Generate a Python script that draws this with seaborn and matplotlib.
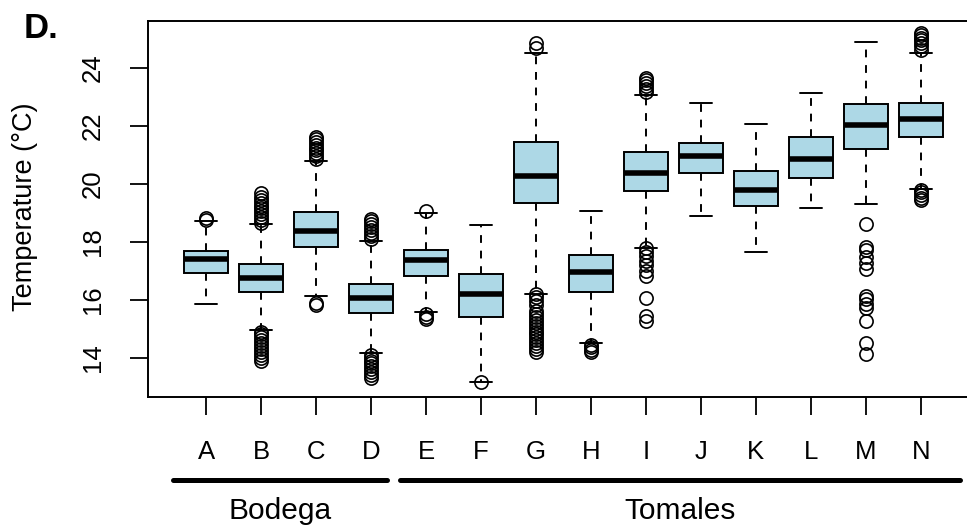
import matplotlib
matplotlib.use("Agg")
import matplotlib.pyplot as plt
import matplotlib.transforms as mtransforms
import seaborn as sns
import numpy as np

# ---- data ----
sites = ["A", "B", "C", "D", "E", "F", "G", "H", "I", "J", "K", "L", "M", "N"]
q1 = [16.91, 16.28, 17.82, 15.55, 16.83, 15.40, 19.33, 16.28, 19.75, 20.36, 19.25, 20.21, 21.21, 21.61]
med = [17.41, 16.76, 18.38, 16.05, 17.37, 16.20, 20.28, 16.95, 20.36, 20.97, 19.77, 20.85, 22.04, 22.25]
q3 = [17.68, 17.23, 19.03, 16.54, 17.72, 16.89, 21.43, 17.53, 21.09, 21.40, 20.44, 21.62, 22.76, 22.80]
whislo = [15.86, 14.97, 16.12, 14.16, 15.57, 13.17, 16.20, 14.50, 17.79, 18.90, 17.66, 19.16, 19.30, 19.81]
whishi = [18.73, 18.62, 20.79, 18.02, 19.00, 18.57, 24.53, 19.07, 23.06, 22.80, 22.07, 23.15, 24.90, 24.53]
outliers = [
    [18.76, 18.82],
    [18.65, 18.75, 18.85, 18.95, 19.05, 19.15, 19.25, 19.35, 19.45, 19.55, 19.67,
     14.90, 14.80, 14.70, 14.60, 14.50, 14.40, 14.30, 14.20, 14.10, 14.00, 13.90],
    [20.85, 20.95, 21.05, 21.15, 21.25, 21.35, 21.45, 21.55, 21.62, 15.80, 15.90],
    [18.10, 18.20, 18.30, 18.40, 18.50, 18.60, 18.70, 18.80,
     14.10, 14.00, 13.90, 13.80, 13.70, 13.60, 13.50, 13.40, 13.30],
    [19.06, 15.50, 15.40, 15.32],
    [13.15],
    [24.68, 24.87, 16.20, 16.10, 15.95, 15.80, 15.60, 15.50, 15.40, 15.30, 15.20,
     15.10, 15.00, 14.90, 14.80, 14.70, 14.60, 14.50, 14.40, 14.30, 14.20],
    [14.45, 14.35, 14.25, 14.20],
    [23.18, 23.28, 23.38, 23.48, 23.58, 23.65,
     17.80, 17.65, 17.50, 17.35, 17.20, 17.00, 16.80, 16.05, 15.45, 15.25],
    [],
    [],
    [],
    [18.61, 17.83, 17.72, 17.49, 17.26, 17.05, 16.13, 16.02, 15.85, 15.70, 15.27, 14.50, 14.12],
    [24.62, 24.75, 24.85, 24.95, 25.05, 25.15, 25.20, 19.79, 19.70, 19.60, 19.50, 19.44],
]
yticks = [14, 16, 18, 20, 22, 24]
groups = ["Bodega", "Tomales"]
group_span = [(0.40, 4.29), (4.53, 14.71)]
ylabel = "Temperature (\u00b0C)"
panel = "D."

# ---- style ----
sns.set_style("white")
plt.rcParams["font.family"] = ["Liberation Sans", "DejaVu Sans"]

W, H = 967, 525
fig = plt.figure(figsize=(W / 100, H / 100), dpi=100)
left, right, top, bottom = 148, 979, 21, 397
ax = fig.add_axes([left / W, 1 - bottom / H, (right - left) / W, (bottom - top) / H])

stats = []
for i, s in enumerate(sites):
    stats.append(dict(label=s, q1=q1[i], med=med[i], q3=q3[i],
                      whislo=whislo[i], whishi=whishi[i], fliers=outliers[i]))

lw = 1.4
positions = np.arange(1, len(sites) + 1)
ax.bxp(stats, positions=positions, widths=0.8, capwidths=0.4, patch_artist=True,
       boxprops=dict(facecolor="#ADD8E6", edgecolor="black", linewidth=lw),
       medianprops=dict(color="black", linewidth=4.0, solid_capstyle="butt"),
       whiskerprops=dict(color="black", linewidth=lw, linestyle=(0, (4, 4))),
       capprops=dict(color="black", linewidth=lw),
       flierprops=dict(marker="o", markerfacecolor="none", markeredgecolor="black",
                       markersize=9.5, markeredgewidth=1.2, linestyle="none"),
       manage_ticks=False)

ax.set_xlim(-0.06, 15.06)
ax.set_ylim(12.64, 25.62)
ax.set_xticks(positions)
ax.set_xticklabels(sites)
ax.set_yticks(yticks)
ax.set_yticklabels([str(t) for t in yticks], rotation=90, va="center")
for sp in ax.spines.values():
    sp.set_visible(True)
    sp.set_color("black")
    sp.set_linewidth(1.4)
ax.tick_params(axis="both", which="major", direction="out", length=13, width=1.3,
               color="black", labelsize=18.5, labelcolor="black", left=True, bottom=True)
ax.tick_params(axis="x", pad=18)
ax.tick_params(axis="y", pad=18)
ax.grid(False)

# group lines and labels below the axis
trans = mtransforms.blended_transform_factory(ax.transData, fig.transFigure)
for g, (x0, x1) in zip(groups, group_span):
    ax.plot([x0, x1], [1 - 480 / H, 1 - 480 / H], transform=trans, color="black",
            linewidth=3.6, solid_capstyle="round", clip_on=False)
    ax.text((x0 + x1) / 2, 1 - 519 / H, g, transform=trans, ha="center", va="baseline",
            fontsize=21.5, color="black")

fig.text(25 / W, 1 - 207 / H, ylabel, rotation=90, ha="center", va="center",
         fontsize=19.5, color="black")
fig.text(24 / W, 1 - 38 / H, panel, ha="left", va="baseline", fontsize=25,
         fontweight="bold", color="black")

fig.savefig("out.png", dpi=100)
